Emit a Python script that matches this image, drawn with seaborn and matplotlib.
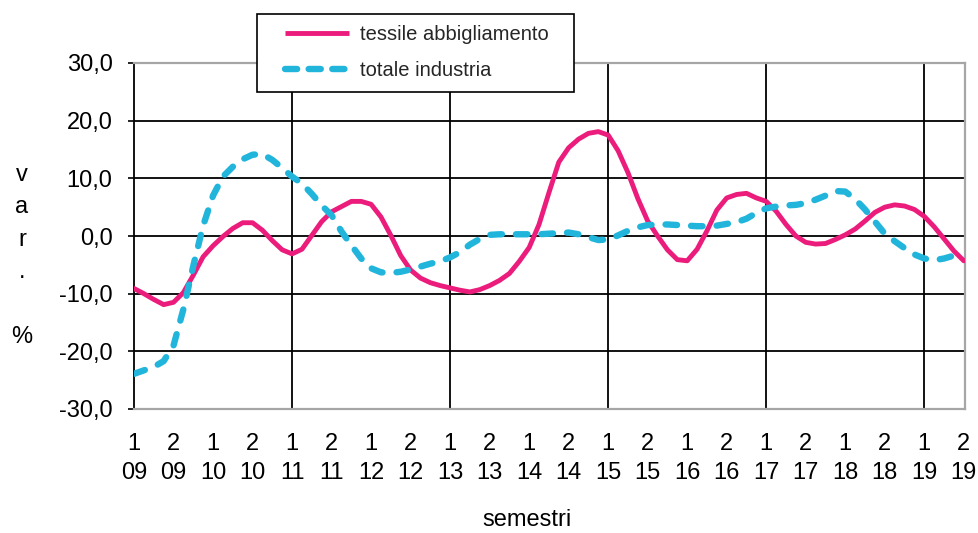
import numpy as np
import pandas as pd
import matplotlib
matplotlib.use("Agg")
import matplotlib.pyplot as plt
from matplotlib.lines import Line2D
from matplotlib.patches import Rectangle
import seaborn as sns

# Semesters shown on the x axis (half, two-digit year)
semestri = ["1", "2"] * 11
anni = ["09", "09", "10", "10", "11", "11", "12", "12", "13", "13", "14", "14",
        "15", "15", "16", "16", "17", "17", "18", "18", "19", "19"]

# Percentage change, sampled four times per semester
tessile = [
    -9.1, -10.0, -11.0, -11.9,
    -11.5, -9.8, -6.8, -3.6,
    -1.7, -0.1, 1.3, 2.3,
    2.3, 1.0, -0.8, -2.4,
    -3.1, -2.3, 0.1, 2.5,
    4.2, 5.1, 6.0, 6.0,
    5.5, 3.3, 0.1, -3.4,
    -5.9, -7.3, -8.1, -8.6,
    -9.0, -9.4, -9.7, -9.3,
    -8.6, -7.7, -6.5, -4.4,
    -2.0, 2.0, 7.5, 12.8,
    15.3, 16.8, 17.8, 18.1,
    17.5, 14.8, 11.0, 6.5,
    2.6, 0.0, -2.4, -4.1,
    -4.3, -2.3, 0.9, 4.5,
    6.6, 7.2, 7.4, 6.6,
    6.0, 4.3, 2.0, 0.0,
    -1.1, -1.4, -1.3, -0.6,
    0.2, 1.2, 2.6, 4.1,
    5.0, 5.4, 5.2, 4.6,
    3.4, 1.6, -0.5, -2.6,
    -4.3,
]
industria = [
    -23.9, -23.3, -22.7, -21.7,
    -19.0, -12.7, -5.2, 1.8,
    7.0, 10.3, 12.0, 13.3,
    14.1, 14.2, 13.2, 11.8,
    10.3, 9.1, 7.3, 5.3,
    3.6, 0.8, -1.6, -3.9,
    -5.6, -6.3, -6.4, -6.2,
    -5.8, -5.3, -4.8, -4.4,
    -3.7, -2.8, -1.5, -0.5,
    0.2, 0.3, 0.3, 0.3,
    0.3, 0.3, 0.4, 0.5,
    0.6, 0.3, -0.2, -0.7,
    -0.6, 0.1, 0.9, 1.5,
    1.9, 2.0, 2.0, 1.9,
    1.8, 1.7, 1.7, 1.8,
    2.1, 2.4, 3.0, 4.0,
    4.8, 5.1, 5.3, 5.4,
    5.7, 6.3, 7.0, 7.8,
    7.7, 6.4, 4.6, 2.5,
    0.4, -0.9, -2.1, -3.2,
    -3.9, -4.2, -3.9, -3.4,
    -3.0,
]
periodo = np.arange(len(tessile)) * 0.25

etichette = ["tessile abbigliamento", "totale industria"]
colori = ["#EB1C7C", "#22B5DC"]

sns.set_theme(style="white")
plt.rcParams["font.family"] = ["Liberation Sans", "DejaVu Sans"]

df = pd.DataFrame({"periodo": periodo, etichette[0]: tessile, etichette[1]: industria})

fig = plt.figure(figsize=(9.79, 5.33), dpi=100)
ax = fig.add_axes([134 / 979, 1 - 409 / 533, (965 - 134) / 979, (409 - 63) / 533])

# Horizontal grid at each major y tick, vertical grid every two years
for v in [-20, -10, 0, 10, 20]:
    ax.axhline(v, color="black", linewidth=1.3, zorder=1)
for anno in range(4, len(semestri), 4):
    ax.axvline(anno, color="black", linewidth=1.3, zorder=1)

sns.lineplot(data=df, x="periodo", y=etichette[0], ax=ax, color=colori[0],
             linewidth=3.5, solid_capstyle="round", solid_joinstyle="round",
             zorder=3, legend=False)
sns.lineplot(data=df, x="periodo", y=etichette[1], ax=ax, color=colori[1],
             linewidth=4.6, dashes=(1.8, 2.2), dash_capstyle="round",
             dash_joinstyle="round", zorder=4, legend=False)

ax.set_xlim(0, 21.03)
ax.set_ylim(-30, 30)
ax.set_xticks(range(len(semestri)))
ax.set_xticklabels([f"{s}\n{a}" for s, a in zip(semestri, anni)],
                   fontsize=17, linespacing=1.42)
yt = list(range(-30, 31, 10))
ax.set_yticks(yt)
ax.set_yticklabels([f"{v:.1f}".replace(".", ",") for v in yt], fontsize=17)

ax.tick_params(axis="x", which="both", length=0, pad=17, colors="black")
ax.tick_params(axis="y", direction="out", length=4.5, width=1.2, pad=11,
               colors="black", left=True)
ax.grid(False)

for lato in ["top", "right", "bottom"]:
    ax.spines[lato].set_color("#A6A6A6")
    ax.spines[lato].set_linewidth(1.6)
ax.spines["left"].set_color("black")
ax.spines["left"].set_linewidth(1.3)
for sp in ax.spines.values():
    sp.set_visible(True)

ax.set_xlabel("semestri", fontsize=17, color="black")
ax.xaxis.set_label_coords((527 - 134) / 831, -0.29)
ax.set_ylabel("v\na\nr\n.\n\n%", rotation=0, fontsize=17, color="black",
              ha="center", va="center", linespacing=1.62)
ax.yaxis.set_label_coords((22 - 134) / 831, (409 - 256) / 346)

# Legend box with its entries on top of the plot area
fig.patches.append(Rectangle((257 / 979, 1 - 92 / 533), (574 - 257) / 979, 78 / 533,
                             transform=fig.transFigure, facecolor="white",
                             edgecolor="black", linewidth=1.2, zorder=4))
maniglie = [
    Line2D([], [], color=colori[0], linewidth=3.5, solid_capstyle="butt"),
    Line2D([], [], color=colori[1], linewidth=4.6, dashes=(1.9, 1.8),
           dash_capstyle="round"),
]
fig.legend(maniglie, etichette, loc="center left",
           bbox_to_anchor=(285 / 979, 1 - 52.5 / 533), frameon=False,
           fontsize=14.5, handlelength=3.2, handletextpad=0.5, labelspacing=0.85,
           borderpad=0, borderaxespad=0)

fig.savefig("out.png", dpi=100, facecolor="white")
